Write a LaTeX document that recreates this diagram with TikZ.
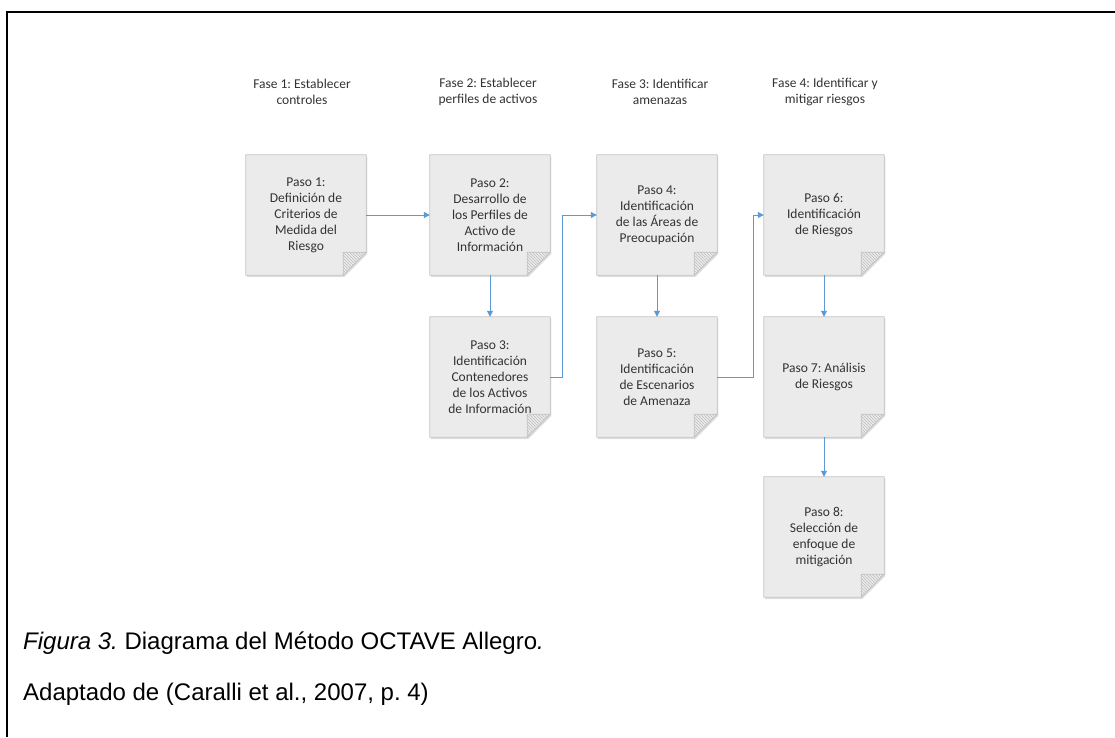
\documentclass[tikz,border=0pt]{standalone}
\usepackage{fontspec}
\setmainfont{Liberation Sans}
\newfontfamily\notefont{Carlito}
\usetikzlibrary{arrows.meta,backgrounds,patterns,shadows}
\frenchspacing

\definecolor{notefill}{HTML}{EBEBEB}
\definecolor{noteedge}{HTML}{C4C4C4}
\definecolor{notetext}{HTML}{333333}
\definecolor{flowblue}{HTML}{5B9BD5}

\tikzset{
  stepbox/.style={minimum width=120pt, minimum height=120pt, inner sep=0pt,
    align=center, text=notetext, font=\notefont\fontsize{13.5}{16}\selectfont},
  phase/.style={align=center, text=notetext, inner sep=0pt,
    font=\notefont\fontsize{13.5}{16}\selectfont},
  flow/.style={draw=flowblue, line width=1pt, -{Triangle[length=6pt,width=6pt]}},
  page/.style={fill=notefill, draw=noteedge, line width=0.8pt,
    drop shadow={shadow xshift=1.2pt, shadow yshift=-1.8pt, opacity=0.25}},
  flap/.style={fill=notefill, draw=noteedge, line width=0.8pt},
  caption/.style={anchor=base west, inner sep=0pt, text=black,
    font=\fontsize{24}{28}\selectfont}
}

% sheet of paper with a folded lower right corner behind node #1
\newcommand\notepage[1]{%
  \path[page] (#1.north west) -- (#1.north east) -- ([yshift=23pt]#1.south east)
    -- ([xshift=-23pt]#1.south east) -- (#1.south west) -- cycle;
  \path[flap] ([xshift=-23pt,yshift=23pt]#1.south east) -- ([yshift=23pt]#1.south east)
    -- ([xshift=-23pt]#1.south east) -- cycle;
  \path[pattern=north west lines, pattern color=black!25]
    ([xshift=-23pt,yshift=23pt]#1.south east) -- ([yshift=23pt]#1.south east)
    -- ([xshift=-23pt]#1.south east) -- cycle;
}

\begin{document}
\begin{tikzpicture}[x=1pt, y=-1pt]
\useasboundingbox (0,0) rectangle (1115,737);

% frame
\draw[line width=2pt] (7,737) -- (7,12) -- (1115,12);

% phase headings
\node[phase] (f1) at (302,92) {Fase 1: Establecer\\controles};
\node[phase] (f2) at (488,92) {Fase 2: Establecer\\perfiles de activos};
\node[phase] (f3) at (660,92) {Fase 3: Identificar\\amenazas};
\node[phase] (f4) at (825,92) {Fase 4: Identificar y\\mitigar riesgos};

% steps
\node[stepbox] (s1) at (306,215) {Paso 1:\\Definición de\\Criterios de\\Medida del\\Riesgo};
\node[stepbox] (s2) at (490,215) {Paso 2:\\Desarrollo de\\los Perfiles de\\Activo de\\Información};
\node[stepbox] (s3) at (490,377) {Paso 3:\\Identificación\\Contenedores\\de los Activos\\de Información};
\node[stepbox] (s4) at (657,215) {Paso 4:\\Identificación\\de las Áreas de\\Preocupación};
\node[stepbox] (s5) at (657,377) {Paso 5:\\Identificación\\de Escenarios\\de Amenaza};
\node[stepbox] (s6) at (824,215) {Paso 6:\\Identificación\\de Riesgos};
\node[stepbox] (s7) at (824,377) {Paso 7: Análisis\\de Riesgos};
\node[stepbox] (s8) at (824,537) {Paso 8:\\Selección de\\enfoque de\\mitigación};

\begin{scope}[on background layer]
  \foreach \s in {s1,s2,s3,s4,s5,s6,s7,s8} {\notepage{\s}}
\end{scope}

% connectors
\draw[flow] (s1) -- (s2);
\draw[flow] (s2) -- (s3);
\draw[flow] (s3.east) -- ++(12,0) |- (s4.west);
\draw[flow] (s4) -- (s5);
\draw[flow] (s5.east) -- ++(36,0) |- (s6.west);
\draw[flow] (s6) -- (s7);
\draw[flow] (s7) -- (s8);

% caption
\node[caption] (cap1) at (23,649) {{\itshape Figura 3.} Diagrama del Método OCTAVE Allegro{\itshape .}};
\node[caption] (cap2) at (23,700) {Adaptado de (Caralli et al., 2007, p. 4)};
\end{tikzpicture}
\end{document}
